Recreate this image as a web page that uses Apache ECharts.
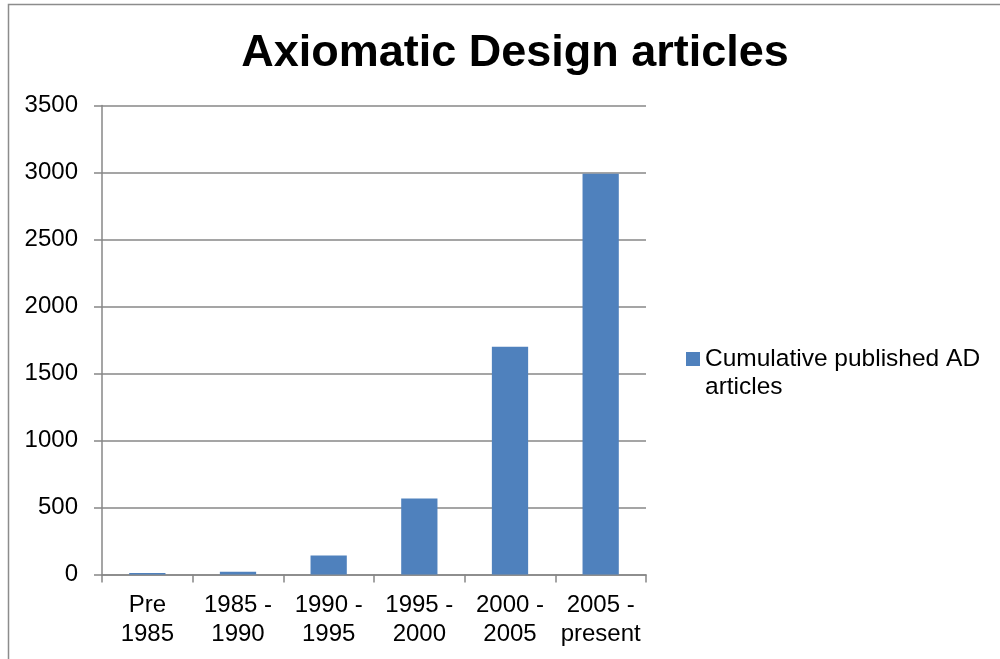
<!DOCTYPE html>
<html>
<head>
<meta charset="utf-8">
<title>Axiomatic Design articles</title>
<script src="https://cdn.jsdelivr.net/npm/echarts@6/dist/echarts.min.js"></script>
<style>
  html, body { margin: 0; padding: 0; background: #ffffff; }
  #chart { width: 1000px; height: 659px; }
</style>
</head>
<body>
<div id="chart"></div>
<script>
// Period categories along the x axis
const categories = ['Pre\n1985', '1985 -\n1990', '1990 -\n1995', '1995 -\n2000', '2000 -\n2005', '2005 -\npresent'];
// Cumulative count of published Axiomatic Design articles per period
const articleCounts = [12, 20, 142, 568, 1700, 2990];
const seriesName = 'Cumulative published AD articles';
// Value axis ticks
const yMin = 0;
const yMax = 3500;
const yStep = 500;

const FONT = "'Liberation Sans', Arial, Helvetica, sans-serif";
const GRID_COLOR = '#878787';
const BAR_COLOR = '#4F81BD';

const chart = echarts.init(document.getElementById('chart'), null, { renderer: 'canvas' });

chart.setOption({
  animation: false,
  backgroundColor: '#ffffff',
  title: {
    text: 'Axiomatic Design articles',
    left: 510,
    textAlign: 'center',
    top: 26,
    textStyle: { fontFamily: FONT, fontSize: 45, fontWeight: 'bold', color: '#000000' }
  },
  graphic: [{
    type: 'rect',
    silent: true,
    shape: { x: 8.5, y: 4.5, width: 1000, height: 700 },
    style: { fill: 'none', stroke: '#8c8c8c', lineWidth: 1.5 }
  }],
  legend: {
    orient: 'vertical',
    left: 686,
    top: 317,
    padding: 0,
    itemWidth: 14,
    itemHeight: 14,
    itemGap: 4,
    icon: 'rect',
    // an empty leading line keeps the marker level with the first text line
    formatter: function (name) {
      return ' \n' + name.replace(' AD ', ' AD\n');
    },
    textStyle: {
      fontFamily: FONT, fontSize: 24.5, color: '#000000', lineHeight: 28
    },
    data: [seriesName]
  },
  grid: {
    left: 102,
    right: 354,
    top: 105.5,
    bottom: 84.5,
    containLabel: false
  },
  xAxis: {
    type: 'category',
    data: categories,
    boundaryGap: true,
    axisLine: { show: true, lineStyle: { color: GRID_COLOR, width: 1.5 } },
    axisTick: { show: true, length: 8, alignWithLabel: false, lineStyle: { color: GRID_COLOR, width: 1.5 } },
    axisLabel: {
      fontFamily: FONT, fontSize: 24, color: '#000000',
      lineHeight: 29, margin: 16, interval: 0, align: 'center'
    },
    splitLine: { show: false }
  },
  yAxis: {
    type: 'value',
    min: yMin,
    max: yMax,
    interval: yStep,
    axisLine: { show: true, lineStyle: { color: GRID_COLOR, width: 1.5 } },
    axisTick: { show: true, length: 8, inside: false, lineStyle: { color: GRID_COLOR, width: 1.5 } },
    axisLabel: {
      fontFamily: FONT, fontSize: 24, color: '#000000', margin: 24,
      formatter: function (v) { return String(v); }
    },
    splitLine: { show: true, lineStyle: { color: GRID_COLOR, width: 1.5 } }
  },
  series: [{
    name: seriesName,
    type: 'bar',
    data: articleCounts,
    barCategoryGap: '60%',
    itemStyle: { color: BAR_COLOR },
    emphasis: { disabled: true }
  }]
});
</script>
</body>
</html>
